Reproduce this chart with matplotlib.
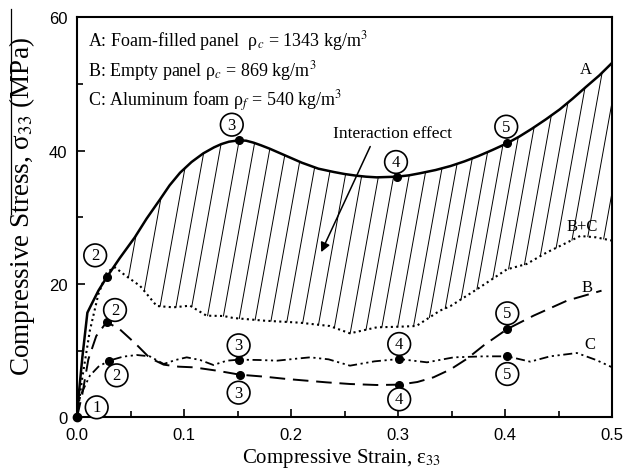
import numpy as np
import matplotlib
matplotlib.use('Agg')
import matplotlib.pyplot as plt
from matplotlib.lines import Line2D

plt.rcParams['font.family'] = ['Liberation Serif', 'DejaVu Serif']
plt.rcParams['mathtext.fontset'] = 'stix'

# Curve A: foam-filled panel
strain_A = [0, 0.002, 0.005, 0.0097, 0.0137, 0.02, 0.0277, 0.04, 0.054, 0.065, 0.0776,
            0.0865, 0.0963, 0.107, 0.118, 0.128, 0.135, 0.142, 0.151, 0.158, 0.165,
            0.172, 0.18, 0.19, 0.2, 0.21, 0.2255, 0.24, 0.25, 0.261, 0.27, 0.28,
            0.299, 0.31, 0.32, 0.335, 0.349, 0.362, 0.375, 0.388, 0.4016, 0.413,
            0.425, 0.438, 0.451, 0.463, 0.475, 0.488, 0.5]
stress_A = [0, 4, 9, 15.7, 17.0, 19.0, 21.0, 23.9, 27.0, 29.8, 32.7,
            34.8, 36.7, 38.3, 39.6, 40.5, 41.0, 41.35, 41.55, 41.5, 41.2,
            40.8, 40.3, 39.6, 38.9, 38.2, 37.3, 36.8, 36.5, 36.25, 36.1, 36.0,
            36.1, 36.3, 36.6, 37.1, 37.7, 38.4, 39.2, 40.1, 41.1, 42.1,
            43.3, 44.7, 46.2, 47.8, 49.5, 51.3, 53.2]

# Curve B+C: sum of empty panel and foam
strain_BC = [0, 0.005, 0.012, 0.02, 0.028, 0.0355, 0.045, 0.059, 0.0745, 0.09, 0.1056,
             0.121, 0.137, 0.146, 0.175, 0.208, 0.236, 0.255, 0.28, 0.302, 0.317, 0.339,
             0.349, 0.3735, 0.4016, 0.42, 0.439, 0.455, 0.47, 0.485, 0.5]
stress_BC = [0, 6, 13, 18.5, 21.8, 22.5, 21.3, 19.7, 16.7, 16.5, 16.75,
             15.25, 15.2, 14.9, 14.5, 14.2, 13.7, 12.6, 13.5, 13.6, 13.7, 16.0,
             16.7, 19.2, 22.2, 23.0, 24.75, 26.0, 27.2, 27.0, 26.5]

# Curve B: empty panel
strain_B = [0, 0.005, 0.0106, 0.018, 0.0277, 0.04, 0.055, 0.068, 0.081, 0.095, 0.109,
            0.1306, 0.152, 0.175, 0.196, 0.233, 0.255, 0.28, 0.301, 0.318, 0.333,
            0.349, 0.364, 0.38, 0.402, 0.4265, 0.4577, 0.49]
stress_B = [0, 3.5, 8.7, 12.2, 14.3, 13.2, 11.0, 8.9, 7.9, 7.6, 7.5,
            7.0, 6.4, 6.1, 5.75, 5.25, 5.0, 4.85, 4.9, 5.3, 6.0,
            7.2, 8.75, 10.8, 13.25, 15.25, 17.5, 19.0]

# Curve C: aluminum foam
strain_C = [0, 0.003, 0.012, 0.02, 0.030, 0.043, 0.0558, 0.068, 0.081, 0.092, 0.1025,
            0.115, 0.1274, 0.140, 0.1514, 0.17, 0.187, 0.205, 0.2178, 0.235, 0.255,
            0.278, 0.301, 0.327, 0.352, 0.38, 0.402, 0.4234, 0.442, 0.467, 0.485, 0.5]
stress_C = [0, 3.2, 6.25, 7.6, 8.5, 9.1, 9.35, 9.15, 8.0, 8.6, 9.0,
            8.6, 7.85, 8.5, 8.65, 8.6, 8.5, 8.8, 9.0, 8.7, 7.75,
            8.4, 8.75, 8.25, 9.0, 9.15, 9.15, 8.35, 9.15, 9.65, 8.6, 7.5]

# marked points (stages 2..5)
mark_strain_A = [0.0277, 0.151, 0.299, 0.4016]
mark_stress_A = [21.0, 41.55, 36.1, 41.1]
mark_strain_B = [0.0277, 0.152, 0.301, 0.402]
mark_stress_B = [14.3, 6.4, 4.9, 13.25]
mark_strain_C = [0.030, 0.1514, 0.301, 0.402]
mark_stress_C = [8.5, 8.65, 8.75, 9.15]

# circled stage numbers: (label, x, y)
stage_labels = [('1', 0.0184, 1.5),
                ('2', 0.017, 24.3), ('2', 0.0355, 16.1), ('2', 0.037, 6.3),
                ('3', 0.1446, 43.9), ('3', 0.151, 10.8), ('3', 0.151, 3.7),
                ('4', 0.298, 38.3), ('4', 0.301, 11.0), ('4', 0.301, 2.7),
                ('5', 0.401, 43.6), ('5', 0.402, 15.6), ('5', 0.402, 6.5)]

fig = plt.figure(figsize=(6.26, 4.77), dpi=100)
ax = fig.add_axes([0.123, 0.123, 0.855, 0.8385])

# hatching between A and B+C (steep lines leaning right)
slope = 0.18 * (400 / 60.0) / (535 / 0.5)
for x0 in np.arange(0.048, 0.52, 0.0148):
    yb = np.interp(x0, strain_BC, stress_BC)
    xt = x0
    for _ in range(20):
        xt = x0 + slope * (np.interp(xt, strain_A, stress_A) - yb)
    yt = np.interp(xt, strain_A, stress_A)
    ax.plot([x0, xt], [yb, yt], color='black', lw=0.7, zorder=1)

ax.plot(strain_A, stress_A, color='black', lw=1.8, zorder=3)
ax.plot(strain_BC, stress_BC, color='black', lw=1.5, linestyle=(0, (1, 1.6)), zorder=3)
ax.plot(strain_B, stress_B, color='black', lw=1.4, dashes=(8, 4), zorder=3)
ax.plot(strain_C, stress_C, color='black', lw=1.3, dashes=(5, 2, 1.2, 2, 1.2, 2), zorder=3)

ax.plot([0], [0], 'o', color='black', ms=6, zorder=5, clip_on=False)
ax.plot(mark_strain_A, mark_stress_A, 'o', color='black', ms=5.5, zorder=5)
ax.plot(mark_strain_B, mark_stress_B, 'o', color='black', ms=5.5, zorder=5)
ax.plot(mark_strain_C, mark_stress_C, 'o', color='black', ms=5.5, zorder=5)

for lab, x, y in stage_labels:
    ax.text(x, y, lab, fontsize=12, ha='center', va='center', zorder=6,
            bbox=dict(boxstyle='circle,pad=0.2', fc='white', ec='black', lw=1.2))

ax.text(0.475, 52.3, 'A', fontsize=12, ha='center', va='center')
ax.text(0.4715, 28.7, 'B+C', fontsize=12, ha='center', va='center')
ax.text(0.476, 19.6, 'B', fontsize=12, ha='center', va='center')
ax.text(0.479, 11.0, 'C', fontsize=12, ha='center', va='center')

ax.text(0.0105, 56.6, 'A: Foam-filled panel  ρ$_c$ = 1343 kg/m$^3$', fontsize=13, va='center')
ax.text(0.0105, 52.1, 'B: Empty panel ρ$_c$ = 869 kg/m$^3$', fontsize=13, va='center')
ax.text(0.0105, 47.5, 'C: Aluminum foam ρ$_f$ = 540 kg/m$^3$', fontsize=13, va='center')

ax.annotate('', xy=(0.227, 24.4), xytext=(0.275, 41.0),
            arrowprops=dict(arrowstyle='-|>', color='black', lw=1.1, mutation_scale=14))
ax.text(0.295, 42.7, 'Interaction effect', fontsize=12.5, ha='center', va='center')

ax.set_xlim(0, 0.5)
ax.set_ylim(0, 60)
ax.set_xticks([0, 0.1, 0.2, 0.3, 0.4, 0.5])
ax.set_xticks(np.arange(0.05, 0.5, 0.1), minor=True)
ax.set_yticks([0, 20, 40, 60])
ax.set_yticks([10, 30, 50], minor=True)
ax.tick_params(which='both', direction='in', width=1.2, pad=7, labelsize=12)
ax.tick_params(which='major', length=6)
ax.tick_params(which='minor', length=4)
for lab in ax.get_xticklabels() + ax.get_yticklabels():
    lab.set_fontfamily('Liberation Sans')
for s in ax.spines.values():
    s.set_linewidth(1.5)

ax.set_xlabel('Compressive Strain, ε$_{33}$', fontsize=15)
ax.set_ylabel('Compressive Stress, σ$_{33}$ (MPa)', fontsize=19.5)
ax.xaxis.set_label_coords(0.495, -0.072)
ax.yaxis.set_label_coords(-0.074, 0.53)

# thin stroke over the y label, as in the source figure
fig.add_artist(Line2D([0.0176, 0.0176], [0.979, 0.549], color='black', lw=0.9))

fig.savefig('out.png', dpi=100)
